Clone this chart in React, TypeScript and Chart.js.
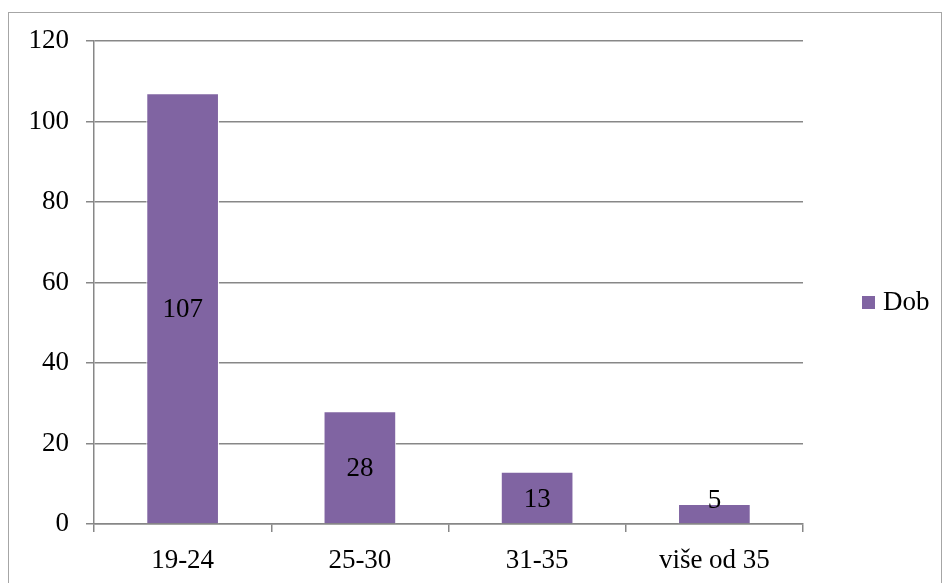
import React, { useEffect, useRef } from "react";
import { Chart, registerables } from "chart.js";

Chart.register(...registerables);

const categories = ["19-24", "25-30", "31-35", "više od 35"];
const values = [107, 28, 13, 5];
const seriesName = "Dob";
const yTicks = [0, 20, 40, 60, 80, 100, 120];

const FONT = "'Liberation Serif', 'Times New Roman', serif";
const BAR = "#8064A2";
const GRID = "#878787";

const W = 932;
const H = 570;

export default function App() {
  const ref = useRef<HTMLCanvasElement | null>(null);

  useEffect(() => {
    if (!ref.current) return;
    const labelPlugin = {
      id: "valueLabels",
      afterDatasetsDraw(chart: any) {
        const ctx = chart.ctx;
        const meta = chart.getDatasetMeta(0);
        ctx.save();
        ctx.font = `27px ${FONT}`;
        ctx.fillStyle = "#000";
        ctx.textAlign = "center";
        ctx.textBaseline = "middle";
        meta.data.forEach((el: any, i: number) => {
          const p = el.getProps(["x", "y", "base"], true);
          let cy = (p.y + p.base) / 2;
          cy = Math.min(cy, p.base - 24);
          ctx.fillText(String(chart.data.datasets[0].data[i]), p.x, cy + 2);
        });
        ctx.restore();
      },
    };
    const legendPlugin = {
      id: "sideLegend",
      afterDraw(chart: any) {
        const ctx = chart.ctx;
        const a = chart.chartArea;
        const ds = chart.data.datasets[0];
        const sx = a.right + 59;
        const sy = 289;
        ctx.save();
        ctx.fillStyle = ds.backgroundColor;
        ctx.fillRect(sx, sy - 6, 13, 13);
        ctx.fillStyle = "#000";
        ctx.font = `27px ${FONT}`;
        ctx.textAlign = "left";
        ctx.textBaseline = "middle";
        ctx.fillText(ds.label, sx + 21, sy + 1);
        ctx.restore();
      },
    };
    const chart = new Chart(ref.current, {
      type: "bar",
      data: {
        labels: categories,
        datasets: [
          {
            label: seriesName,
            data: values,
            backgroundColor: BAR,
            borderColor: "#ffffff",
            borderWidth: 1,
            categoryPercentage: 1,
            barPercentage: 0.41,
          },
        ],
      },
      options: {
        responsive: false,
        animation: false,
        devicePixelRatio: 1,
        layout: { padding: { top: 28, right: W - 794, left: 0, bottom: 0 } },
        plugins: {
          legend: { display: false },
          tooltip: { enabled: false },
        },
        scales: {
          x: {
            grid: {
              offset: true,
              drawOnChartArea: false,
              drawTicks: true,
              tickLength: 8,
              color: GRID,
              lineWidth: 1.5,
            },
            border: { display: true, color: GRID, width: 1.5 },
            ticks: {
              color: "#000",
              font: { family: FONT, size: 27 },
              padding: 13,
              maxRotation: 0,
              autoSkip: false,
            },
            afterFit(scale: any) {
              scale.height = H - 511;
              scale.paddingLeft = 0;
              scale.paddingRight = 0;
            },
          },
          y: {
            min: 0,
            max: 120,
            afterBuildTicks(scale: any) {
              scale.ticks = yTicks.map((v) => ({ value: v }));
            },
            grid: {
              drawTicks: true,
              tickLength: 8,
              color: GRID,
              lineWidth: 1.5,
            },
            border: { display: true, color: GRID, width: 1.5 },
            ticks: {
              color: "#000",
              font: { family: FONT, size: 27 },
              padding: 17,
            },
            afterFit(scale: any) {
              scale.width = 85;
              scale.paddingTop = 0;
              scale.paddingBottom = 0;
            },
          },
        },
      },
      plugins: [labelPlugin, legendPlugin],
    });
    return () => chart.destroy();
  }, []);

  return (
    <div
      style={{
        position: "fixed",
        left: 8,
        top: 12,
        width: 934,
        height: 580,
        border: "1px solid #a6a6a6",
        boxSizing: "border-box",
        background: "#fff",
      }}
    >
      <canvas
        ref={ref}
        width={W}
        height={H}
        style={{ position: "absolute", left: 0, top: 0, width: W, height: H }}
      />
    </div>
  );
}
